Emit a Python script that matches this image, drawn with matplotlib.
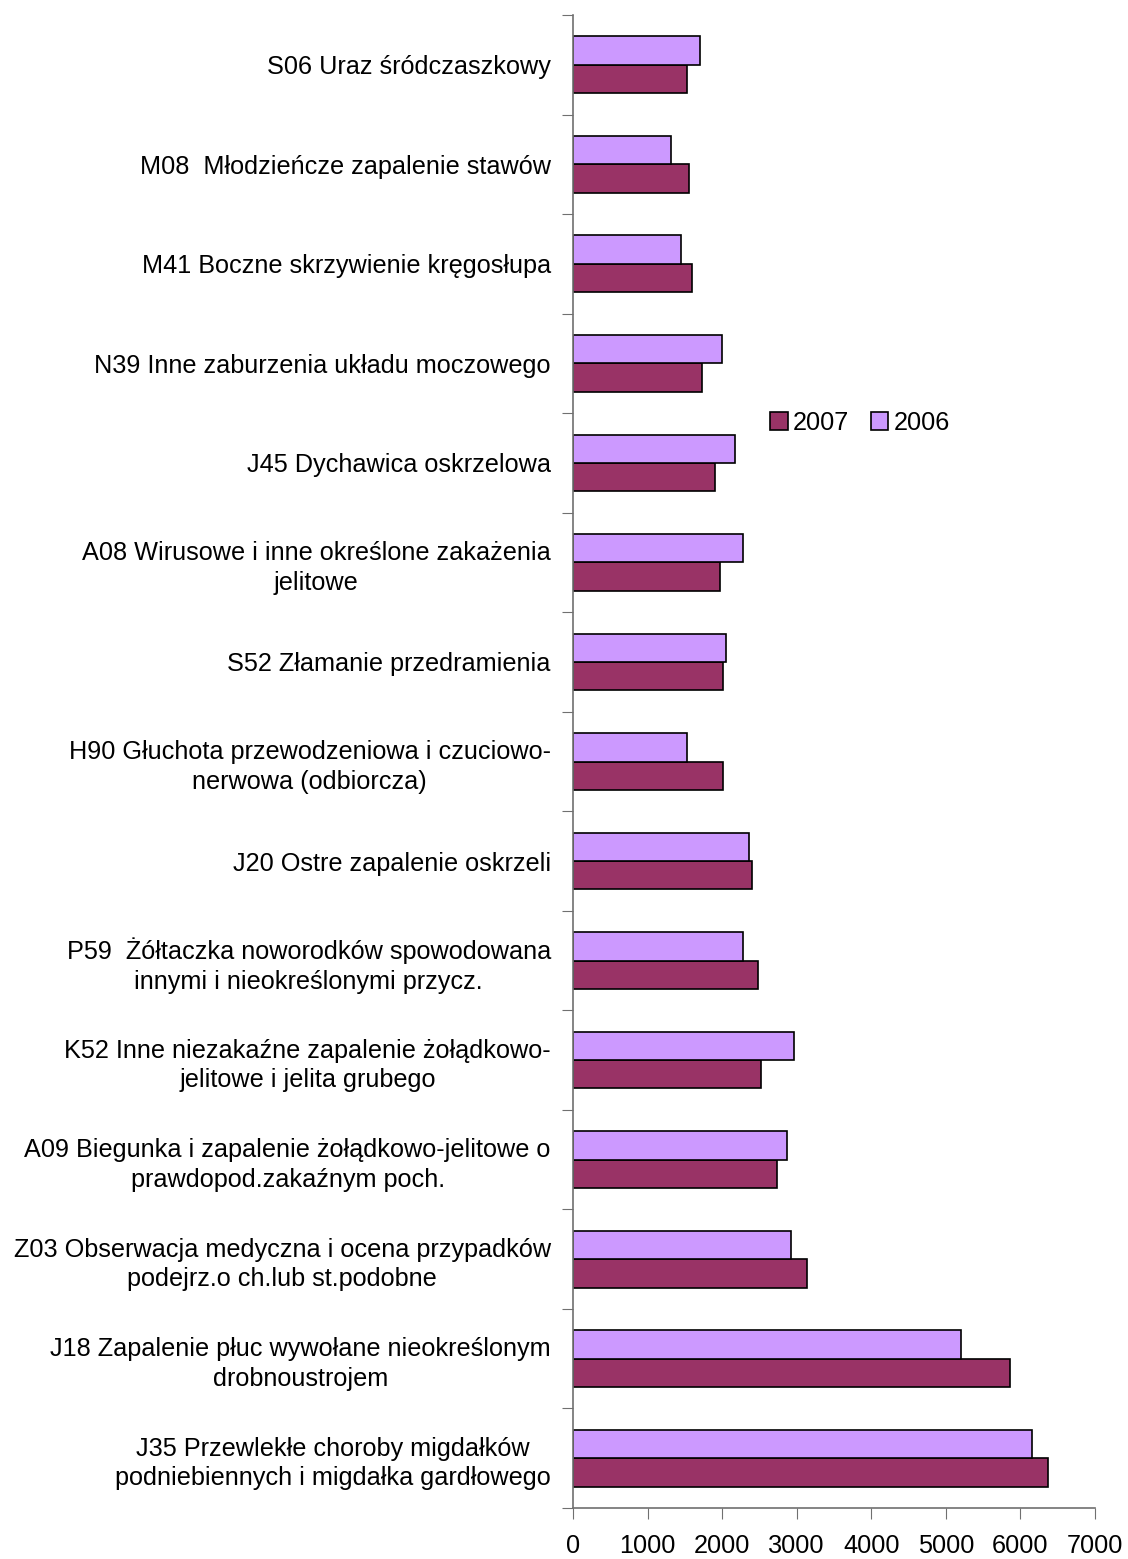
import numpy as np
import matplotlib
matplotlib.use("Agg")
import matplotlib.pyplot as plt

plt.rcParams['font.family'] = ['Liberation Sans', 'DejaVu Sans']

# kategorie od dołu do góry
categories = [
    "J35 Przewlekłe choroby migdałków\npodniebiennych i migdałka gardłowego",
    "J18 Zapalenie płuc wywołane nieokreślonym\ndrobnoustrojem",
    "Z03 Obserwacja medyczna i ocena przypadków\npodejrz.o ch.lub st.podobne",
    "A09 Biegunka i zapalenie żołądkowo-jelitowe o\nprawdopod.zakaźnym poch.",
    "K52 Inne niezakaźne zapalenie żołądkowo-\njelitowe i jelita grubego",
    "P59  Żółtaczka noworodków spowodowana\ninnymi i nieokreślonymi przycz.",
    "J20 Ostre zapalenie oskrzeli",
    "H90 Głuchota przewodzeniowa i czuciowo-\nnerwowa (odbiorcza)",
    "S52 Złamanie przedramienia",
    "A08 Wirusowe i inne określone zakażenia\njelitowe",
    "J45 Dychawica oskrzelowa",
    "N39 Inne zaburzenia układu moczowego",
    "M41 Boczne skrzywienie kręgosłupa",
    "M08  Młodzieńcze zapalenie stawów",
    "S06 Uraz śródczaszkowy",
]

values_2007 = [6370, 5865, 3140, 2740, 2520, 2480, 2405, 2015, 2015, 1975, 1905, 1730, 1600, 1555, 1530]
values_2006 = [6150, 5205, 2920, 2870, 2960, 2280, 2365, 1530, 2055, 2280, 2170, 1995, 1450, 1315, 1705]

years = ["2007", "2006"]
colors = ["#993366", "#CC99FF"]

fig = plt.figure(figsize=(11.28, 15.59), dpi=100)
ax = fig.add_axes([573 / 1128, 1 - 1508 / 1559, 522 / 1128, 1493 / 1559])

y = np.arange(len(categories))
h = 0.285
ax.barh(y - h / 2, values_2007, height=h, color=colors[0], edgecolor="black",
        linewidth=1.2, label=years[0])
ax.barh(y + h / 2, values_2006, height=h, color=colors[1], edgecolor="black",
        linewidth=1.2, label=years[1])

ax.set_xlim(0, 7000)
ax.set_ylim(-0.5, len(categories) - 0.5)
ax.set_xticks(np.arange(0, 7001, 1000))

fs = 18.2

# kreski na granicach kategorii, opisy w środku
ax.set_yticks(np.arange(-0.5, len(categories), 1.0))
ax.set_yticklabels([])
ax.set_yticks(y, minor=True)
ax.set_yticklabels(categories, minor=True, fontsize=fs)
for lab in ax.get_yticklabels(minor=True):
    lab.set_multialignment("center")
    lab.set_linespacing(1.3)

ax.tick_params(axis="y", which="major", direction="out", length=8, color="#707070")
ax.tick_params(axis="y", which="minor", length=0, pad=16)
ax.tick_params(axis="x", direction="out", length=8, color="#707070", labelsize=fs, pad=11)

for s in ["top", "right"]:
    ax.spines[s].set_visible(False)
for s in ["left", "bottom"]:
    ax.spines[s].set_color("#707070")
    ax.spines[s].set_linewidth(1.2)

ax.legend(loc="center", bbox_to_anchor=(0.55, 0.727), ncol=2, frameon=False,
          fontsize=fs, handlelength=0.7, handleheight=0.7, handletextpad=0.2,
          columnspacing=0.85)

fig.savefig("out.png", dpi=100, facecolor="white")
